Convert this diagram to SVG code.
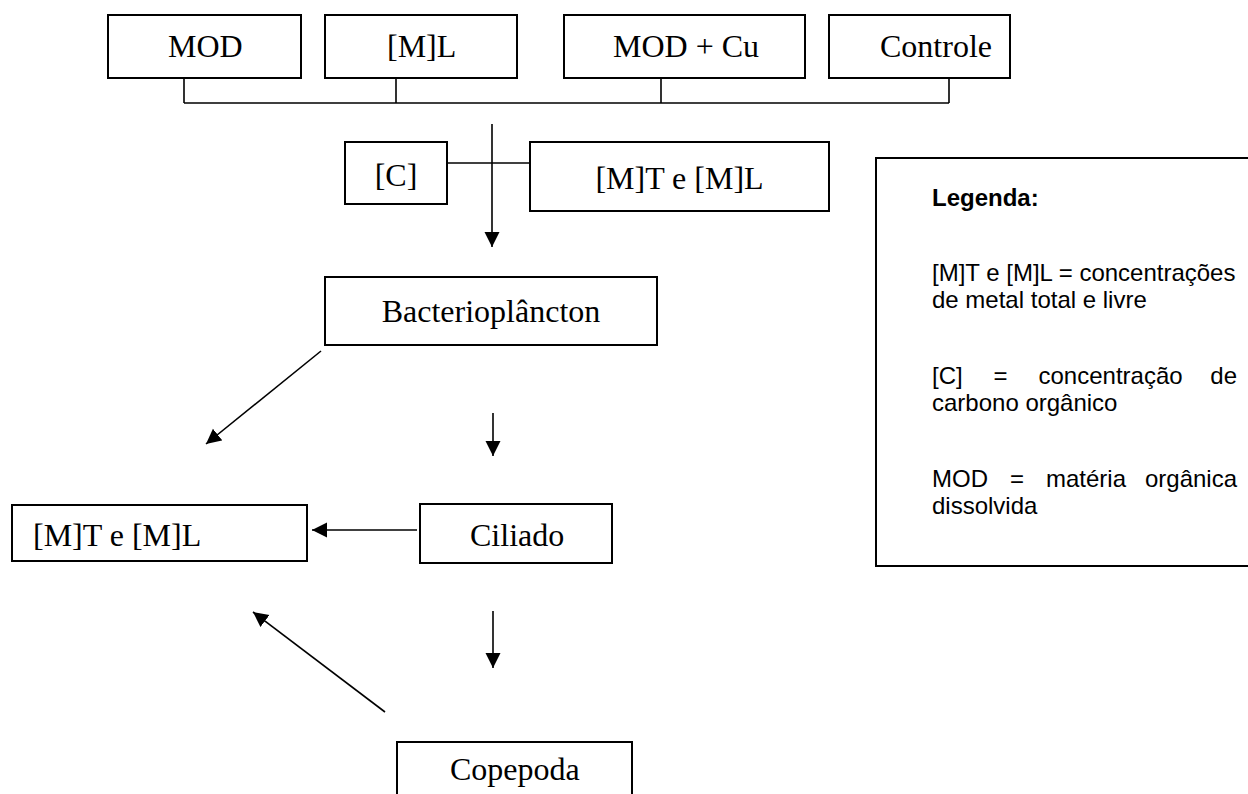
<svg xmlns="http://www.w3.org/2000/svg" width="1248" height="794" viewBox="0 0 1248 794">
<style>
.box{fill:#fff;stroke:#000;stroke-width:2}
.t{font-family:"Liberation Serif","Times New Roman",serif;font-size:32px;fill:#000}
.l{font-family:"Liberation Sans",Arial,sans-serif;font-size:24px;fill:#000}
.b{font-weight:bold}
.c{stroke:#000;stroke-width:1.6;fill:none}
</style>
<defs>
<marker id="ah" markerUnits="userSpaceOnUse" markerWidth="16" markerHeight="16" refX="15" refY="7.5" orient="auto">
<path d="M0,0 L15,7.5 L0,15 z" fill="#000"/>
</marker>
</defs>
<rect width="1248" height="794" fill="#fff"/>
<g id="connectors">
<path class="c" d="M184,78 V103 M396,78 V103 M661,78 V103 M949,78 V103 M184,103 H949"/>
<path class="c" d="M447,163 H530"/>
<path class="c" d="M492,124 V247" marker-end="url(#ah)"/>
<path class="c" d="M321,351 L206,444" marker-end="url(#ah)"/>
<path class="c" d="M493,413 V456" marker-end="url(#ah)"/>
<path class="c" d="M417,530 H312" marker-end="url(#ah)"/>
<path class="c" d="M493,611 V668" marker-end="url(#ah)"/>
<path class="c" d="M385,712 L253,612" marker-end="url(#ah)"/>
</g>
<g id="n-mod"><rect class="box" x="108" y="15" width="193" height="63"/><text class="t" x="168" y="57">MOD</text></g>
<g id="n-ml"><rect class="box" x="325" y="15" width="192" height="63"/><text class="t" x="387" y="57">[M]L</text></g>
<g id="n-modcu"><rect class="box" x="564" y="15" width="241" height="63"/><text class="t" x="613" y="57">MOD + Cu</text></g>
<g id="n-controle"><rect class="box" x="829" y="15" width="181" height="63"/><text class="t" x="880" y="57">Controle</text></g>
<g id="n-c"><rect class="box" x="345" y="142" width="102" height="62"/><text class="t" x="396" y="186" text-anchor="middle">[C]</text></g>
<g id="n-mtml1"><rect class="box" x="530" y="142" width="299" height="69"/><text class="t" x="679.5" y="189" text-anchor="middle">[M]T e [M]L</text></g>
<g id="n-bact"><rect class="box" x="325" y="277" width="332" height="68"/><text class="t" x="491" y="322" text-anchor="middle">Bacterioplâncton</text></g>
<g id="n-mtml2"><rect class="box" x="12" y="505" width="295" height="56"/><text class="t" x="33" y="546">[M]T e [M]L</text></g>
<g id="n-ciliado"><rect class="box" x="420" y="504" width="192" height="59"/><text class="t" x="470" y="546">Ciliado</text></g>
<g id="n-copepoda"><rect class="box" x="397" y="742" width="235" height="70"/><text class="t" x="450" y="780">Copepoda</text></g>
<g id="legend">
<rect class="box" x="876" y="158" width="390" height="408"/>
<text class="l b" x="932" y="206">Legenda:</text>
<text class="l" x="932" y="281">[M]T e [M]L = concentrações</text>
<text class="l" x="932" y="308">de metal total e livre</text>
<text class="l" y="384"><tspan x="932">[C]</tspan><tspan x="993.6">=</tspan><tspan x="1038.5">concentração</tspan></text>
<text class="l" x="1237" y="384" text-anchor="end">de</text>
<text class="l" x="932" y="411">carbono orgânico</text>
<text class="l" y="487"><tspan x="932">MOD</tspan><tspan x="1010">=</tspan><tspan x="1046">matéria</tspan></text>
<text class="l" x="1237" y="487" text-anchor="end">orgânica</text>
<text class="l" x="932" y="514">dissolvida</text>
</g>
</svg>
